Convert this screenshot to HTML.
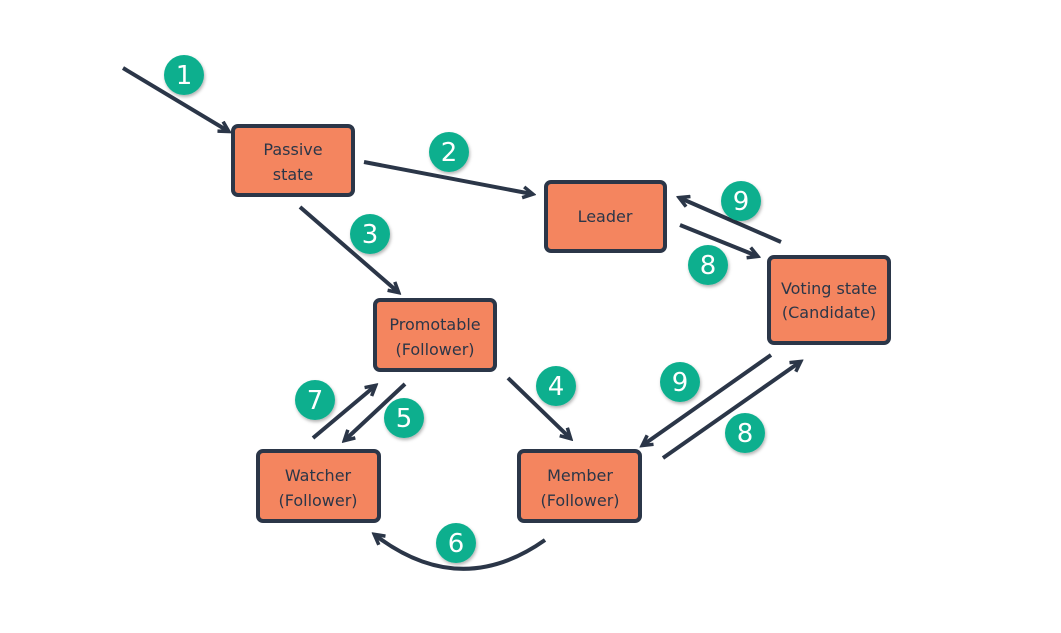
<!DOCTYPE html>
<html><head><style>
html,body{margin:0;padding:0;background:#fff;}
svg{display:block;}
text{font-family:"DejaVu Sans","Liberation Sans",sans-serif;}
</style></head><body>
<svg width="1061" height="633" viewBox="0 0 1061 633">
<defs>
<marker id="a" markerWidth="14" markerHeight="14" refX="10" refY="7" orient="auto" markerUnits="userSpaceOnUse">
<path d="M1,1.5 L11,7 L1,12.5" fill="none" stroke="#2B3648" stroke-width="3.5"/>
</marker>
<filter id="s" x="-30%" y="-30%" width="160%" height="160%"><feDropShadow dx="1" dy="2" stdDeviation="1.5" flood-opacity="0.3"/></filter>
</defs>
<g stroke="#2B3648" stroke-width="4" fill="none" marker-end="url(#a)">
<line x1="123" y1="68" x2="228" y2="131"/>
<line x1="364" y1="162" x2="532" y2="194"/>
<line x1="300" y1="207" x2="398" y2="292"/>
<line x1="781" y1="242" x2="680" y2="198"/>
<line x1="680" y1="225" x2="757" y2="256"/>
<line x1="508" y1="378" x2="570" y2="438"/>
<line x1="313" y1="438" x2="375" y2="386"/>
<line x1="405" y1="384" x2="345" y2="440"/>
<line x1="771" y1="355" x2="643" y2="445"/>
<line x1="663" y1="458" x2="800" y2="362"/>
<path d="M545,540 Q460,600 375,535"/>
</g>
<g fill="#F4855F" stroke="#2B3648" stroke-width="4">
<rect x="233" y="126" width="120" height="69" rx="5"/>
<rect x="546" y="182" width="119" height="69" rx="5"/>
<rect x="769" y="257" width="120" height="86" rx="5"/>
<rect x="375" y="300" width="120" height="70" rx="5"/>
<rect x="258" y="451" width="121" height="70" rx="5"/>
<rect x="519" y="451" width="121" height="70" rx="5"/>
</g>
<g fill="#2B3648" font-size="16" text-anchor="middle">
<text x="293" y="155">Passive</text><text x="293" y="180">state</text>
<text x="605" y="222">Leader</text>
<text x="829" y="294">Voting state</text><text x="829" y="318">(Candidate)</text>
<text x="435" y="330">Promotable</text><text x="435" y="355">(Follower)</text>
<text x="318" y="481">Watcher</text><text x="318" y="506">(Follower)</text>
<text x="580" y="481">Member</text><text x="580" y="506">(Follower)</text>
</g>
<g filter="url(#s)" fill="#0BAF8E">
<circle cx="184" cy="75" r="20"/><circle cx="449" cy="152" r="20"/>
<circle cx="741" cy="201" r="20"/><circle cx="708" cy="265" r="20"/>
<circle cx="370" cy="234" r="20"/><circle cx="556" cy="386" r="20"/>
<circle cx="315" cy="400" r="20"/><circle cx="404" cy="418" r="20"/>
<circle cx="680" cy="382" r="20"/><circle cx="745" cy="433" r="20"/>
<circle cx="456" cy="543" r="20"/>
</g>
<g fill="#fff" font-size="26" text-anchor="middle" style="font-family:'Liberation Sans',sans-serif">
<text x="184" y="84">1</text><text x="449" y="161">2</text>
<text x="741" y="210">9</text><text x="708" y="274">8</text>
<text x="370" y="243">3</text><text x="556" y="395">4</text>
<text x="315" y="409">7</text><text x="404" y="427">5</text>
<text x="680" y="391">9</text><text x="745" y="442">8</text>
<text x="456" y="552">6</text>
</g>
</svg>
</body></html>
